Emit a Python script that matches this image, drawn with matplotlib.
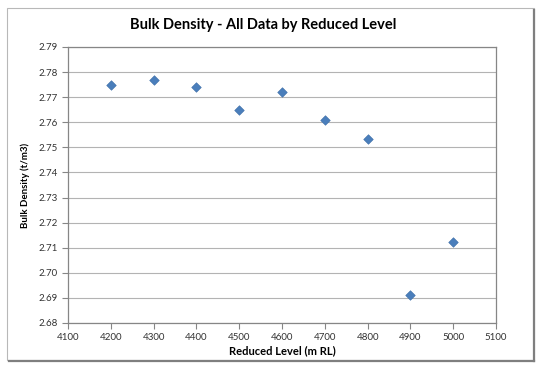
import matplotlib
matplotlib.use("Agg")
import matplotlib.pyplot as plt
from matplotlib.lines import Line2D
from matplotlib.patches import Rectangle

# data
reduced_level = [4200, 4300, 4400, 4500, 4600, 4700, 4800, 4900, 5000]
bulk_density = [2.7747, 2.7767, 2.7740, 2.7648, 2.7720, 2.7608, 2.7532, 2.6913, 2.7121]

x_ticks = [4100, 4200, 4300, 4400, 4500, 4600, 4700, 4800, 4900, 5000, 5100]
y_ticks = [2.68, 2.69, 2.70, 2.71, 2.72, 2.73, 2.74, 2.75, 2.76, 2.77, 2.78, 2.79]

plt.rcParams['font.family'] = ['Lato', 'DejaVu Sans']

W, H = 541, 367
fig = plt.figure(figsize=(W / 100, H / 100), dpi=100)
fig.patch.set_facecolor('white')

# outer chart border with a little shadow on right/bottom
fig.add_artist(Rectangle((7 / W, 1 - 360 / H), (534 - 7) / W, (360 - 8) / H,
                         transform=fig.transFigure, fill=False,
                         edgecolor='#b8b8b8', linewidth=0.8))
fig.add_artist(Line2D([534 / W, 534 / W], [1 - 10 / H, 1 - 361 / H],
                      transform=fig.transFigure, color='#7f7f7f', linewidth=1.6))
fig.add_artist(Line2D([9 / W, 534 / W], [1 - 361 / H, 1 - 361 / H],
                      transform=fig.transFigure, color='#7f7f7f', linewidth=1.6))

ax = fig.add_axes([68 / W, 1 - 323 / H, (496 - 68) / W, (323 - 47) / H])

ax.scatter(reduced_level, bulk_density, marker='D', s=24, color='#4a7ebb',
           edgecolors='#3f6fa8', linewidths=0.4, zorder=3)

ax.set_xlim(4100, 5100)
ax.set_ylim(2.68, 2.79)
ax.set_xticks(x_ticks)
ax.set_yticks(y_ticks)
ax.set_yticklabels(['%.2f' % v for v in y_ticks])

ax.grid(axis='y', color='#b3b3b3', linewidth=0.8)
ax.set_axisbelow(True)

for s in ax.spines.values():
    s.set_color('#868686')
    s.set_linewidth(0.9)

ax.tick_params(axis='both', colors='#868686', labelcolor='#333333',
               labelsize=7, length=4, width=0.8, direction='out')

ax.set_xlabel('Reduced Level (m RL)', fontsize=8, fontweight='bold', labelpad=2)
ax.set_ylabel('Bulk Density (t/m3)', fontsize=7, fontweight='bold', labelpad=6)

fig.text(263 / W, 1 - 25 / H, 'Bulk Density - All Data by Reduced Level',
         ha='center', va='center', fontsize=10.5, fontweight='bold')

fig.savefig('out.png', dpi=100)
